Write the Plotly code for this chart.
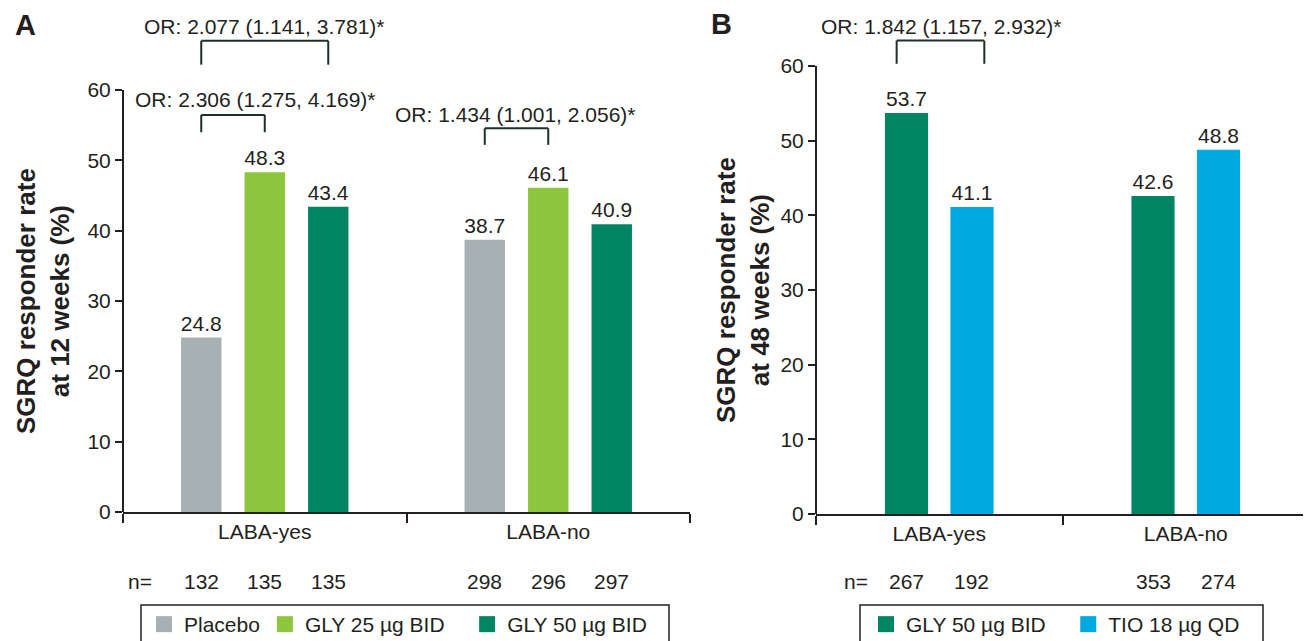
import plotly.graph_objects as go

# ---------------- data ----------------
categories = ["LABA-yes", "LABA-no"]

a_series = ["Placebo", "GLY 25 µg BID", "GLY 50 µg BID"]
a_placebo = [24.8, 38.7]
a_gly25 = [48.3, 46.1]
a_gly50 = [43.4, 40.9]
a_n_placebo = [132, 298]
a_n_gly25 = [135, 296]
a_n_gly50 = [135, 297]

b_series = ["GLY 50 µg BID", "TIO 18 µg QD"]
b_gly50 = [53.7, 42.6]
b_tio = [41.1, 48.8]
b_n_gly50 = [267, 353]
b_n_tio = [192, 274]

a_or_labels = ["OR: 2.077 (1.141, 3.781)*", "OR: 2.306 (1.275, 4.169)*", "OR: 1.434 (1.001, 2.056)*"]
b_or_labels = ["OR: 1.842 (1.157, 2.932)*"]

y_ticks = [0, 10, 20, 30, 40, 50, 60]

# ---------------- styling / geometry ----------------
W, H = 1311, 641
OFF = 8                      # page body margin of the html page
FW, FH = W - OFF, H - OFF    # figure size so it ends at the window edge


def xp(px):
    return (px - OFF) / FW


def yp(py):
    return 1 - (py - OFF) / FH


FONT = "Liberation Sans, Arial, Helvetica, sans-serif"
TXT = "#231f20"
BRK = "#1c2f2c"
C_PLACEBO = "#a7b0b2"
C_GLY25 = "#8dc63f"
C_GLY50 = "#008564"
C_TIO = "#00a9e0"

# panel A pixel frame (reference pixels)
A_X0, A_X1 = 123, 690
A_Y0, A_Y60 = 512, 90
# panel B pixel frame
B_X0, B_X1 = 816, 1309
B_Y0, B_Y60 = 514, 66

a_ppu = (A_Y0 - A_Y60) / 60.0
b_ppu = (B_Y0 - B_Y60) / 60.0
a_top = (A_Y0 - OFF) / a_ppu
b_top = (B_Y0 - OFF) / b_ppu

# bar layout in category units
A_SLOT, A_W = 0.224, 0.1425
B_SLOT, B_W = 0.2657, 0.175
a_centers = [-A_SLOT, 0.0, A_SLOT]
b_centers = [-B_SLOT / 2, B_SLOT / 2]

NB = "\u00a0" * 3  # extra spacing after a legend entry

fig = go.Figure()

a_vals = [a_placebo, a_gly25, a_gly50]
a_cols = [C_PLACEBO, C_GLY25, C_GLY50]
for name, vals, col, c in zip(a_series, a_vals, a_cols, a_centers):
    fig.add_trace(go.Bar(
        x=categories, y=vals, name=name, marker=dict(color=col, line=dict(width=0)),
        width=A_W, offset=c - A_W / 2, xaxis="x", yaxis="y",
        texttemplate="%{y:.1f}", textposition="outside", constraintext="none",
        textfont=dict(size=21, color=TXT, family=FONT), cliponaxis=False,
        showlegend=False, hoverinfo="x+y"))

b_vals = [b_gly50, b_tio]
b_cols = [C_GLY50, C_TIO]
for name, vals, col, c in zip(b_series, b_vals, b_cols, b_centers):
    fig.add_trace(go.Bar(
        x=categories, y=vals, name=name, marker=dict(color=col, line=dict(width=0)),
        width=B_W, offset=c - B_W / 2, xaxis="x2", yaxis="y2",
        texttemplate="%{y:.1f}", textposition="outside", constraintext="none",
        textfont=dict(size=21, color=TXT, family=FONT), cliponaxis=False,
        showlegend=False, hoverinfo="x+y"))

# legend entries (square swatches)
a_leg_names = [a_series[0], a_series[1] + NB, a_series[2]]
for name, col in zip(a_leg_names, a_cols):
    fig.add_trace(go.Scatter(x=[None], y=[None], mode="markers", name=name,
                             marker=dict(symbol="square", size=16, color=col),
                             xaxis="x", yaxis="y", legend="legend"))
b_leg_names = [b_series[0] + NB, b_series[1]]
for name, col in zip(b_leg_names, b_cols):
    fig.add_trace(go.Scatter(x=[None], y=[None], mode="markers", name=name,
                             marker=dict(symbol="square", size=16, color=col),
                             xaxis="x2", yaxis="y2", legend="legend2"))

shapes = []
annotations = []


def bracket(xref, yref, xl, xr, ytop, yleg):
    ln = dict(color=BRK, width=2)
    shapes.append(dict(type="line", xref=xref, yref=yref, x0=xl, x1=xl, y0=yleg, y1=ytop, line=ln))
    shapes.append(dict(type="line", xref=xref, yref=yref, x0=xl, x1=xr, y0=ytop, y1=ytop, line=ln))
    shapes.append(dict(type="line", xref=xref, yref=yref, x0=xr, x1=xr, y0=yleg, y1=ytop, line=ln))


def text(xref, yref, x, y, t, size=21, **kw):
    d = dict(xref=xref, yref=yref, x=x, y=y, text=t, showarrow=False,
             font=dict(size=size, color=TXT, family=FONT), xanchor="center", yanchor="middle")
    d.update(kw)
    annotations.append(d)


# Panel A brackets
bracket("x", "y", 0 + a_centers[0], 0 + a_centers[2], 67.0, 63.6)
text("x", "y", 0.0, 69.1, a_or_labels[0])
bracket("x", "y", 0 + a_centers[0], 0 + a_centers[1], 56.45, 54.0)
text("x", "y", -0.033, 58.6, a_or_labels[1])
bracket("x", "y", 1 + a_centers[0], 1 + a_centers[1], 54.55, 52.2)
text("x", "y", 0.885, 56.45, a_or_labels[2])

# Panel B bracket
bracket("x2", "y2", 0 + b_centers[0] - 0.04, 0 + b_centers[1] + 0.05, 63.4, 60.3)
text("x2", "y2", 0.01, 65.3, b_or_labels[0])

# y-axis lines (0 to 60 only)
shapes.append(dict(type="line", xref="x domain", yref="y", x0=0, x1=0, y0=0, y1=60,
                   line=dict(color=TXT, width=2)))
shapes.append(dict(type="line", xref="x2 domain", yref="y2", x0=0, x1=0, y0=0, y1=60,
                   line=dict(color=TXT, width=2)))

# legend frames (run past the bottom edge like the reference)
shapes.append(dict(type="rect", xref="paper", yref="paper", x0=xp(141), x1=xp(669),
                   y0=yp(605), y1=yp(665), line=dict(color=TXT, width=1.5)))
shapes.append(dict(type="rect", xref="paper", yref="paper", x0=xp(860), x1=xp(1263),
                   y0=yp(605), y1=yp(665), line=dict(color=TXT, width=1.5)))

# n= rows
n_y = yp(581)
text("paper", "paper", xp(140), n_y, "n=")
for ns, c in zip([a_n_placebo, a_n_gly25, a_n_gly50], a_centers):
    for i, n in enumerate(ns):
        text("x", "paper", i + c, n_y, str(n))
text("paper", "paper", xp(856), n_y, "n=")
for ns, c in zip([b_n_gly50, b_n_tio], b_centers):
    for i, n in enumerate(ns):
        text("x2", "paper", i + c, n_y, str(n))

# y titles
text("paper", "y", xp(43), 30, "<b>SGRQ responder rate<br>at 12 weeks (%)</b>", size=26, textangle=-90)
text("paper", "y2", xp(743), 30, "<b>SGRQ responder rate<br>at 48 weeks (%)</b>", size=26, textangle=-90)

# panel letters
text("paper", "paper", xp(25), yp(25), "<b>A</b>", size=29)
text("paper", "paper", xp(722), yp(24), "<b>B</b>", size=29)

axis_font = dict(size=21, color=TXT, family=FONT)
xcommon = dict(type="category", tickson="boundaries", ticks="outside", ticklen=9, tickwidth=2,
               tickcolor=TXT, showline=True, linewidth=2, linecolor=TXT, showgrid=False,
               zeroline=False, range=[-0.5, 1.5], tickfont=axis_font, fixedrange=True)
ycommon = dict(tickvals=y_ticks, ticks="outside", ticklen=7, tickwidth=2, tickcolor=TXT,
               showline=False, showgrid=False, zeroline=False, tickfont=axis_font, fixedrange=True)

legend_common = dict(orientation="h", xanchor="left", yanchor="top", borderwidth=0,
                     bgcolor="rgba(255,255,255,0)", font=dict(size=21, color=TXT, family=FONT),
                     traceorder="normal")

fig.update_layout(
    width=FW, height=FH, autosize=False,
    margin=dict(l=0, r=0, t=0, b=0, autoexpand=False),
    paper_bgcolor="white", plot_bgcolor="white",
    barmode="overlay",
    font=dict(family=FONT, color=TXT, size=21),
    xaxis=dict(domain=[xp(A_X0), xp(A_X1)], anchor="y", **xcommon),
    yaxis=dict(domain=[yp(A_Y0), 1], anchor="x", range=[0, a_top], **ycommon),
    xaxis2=dict(domain=[xp(B_X0), xp(B_X1)], anchor="y2", **xcommon),
    yaxis2=dict(domain=[yp(B_Y0), 1], anchor="x2", range=[0, b_top], **ycommon),
    legend=dict(x=xp(144), y=yp(604), **legend_common),
    legend2=dict(x=xp(866), y=yp(604), **legend_common),
    shapes=shapes,
    annotations=annotations,
    showlegend=True,
)

fig.write_html("out.html")
